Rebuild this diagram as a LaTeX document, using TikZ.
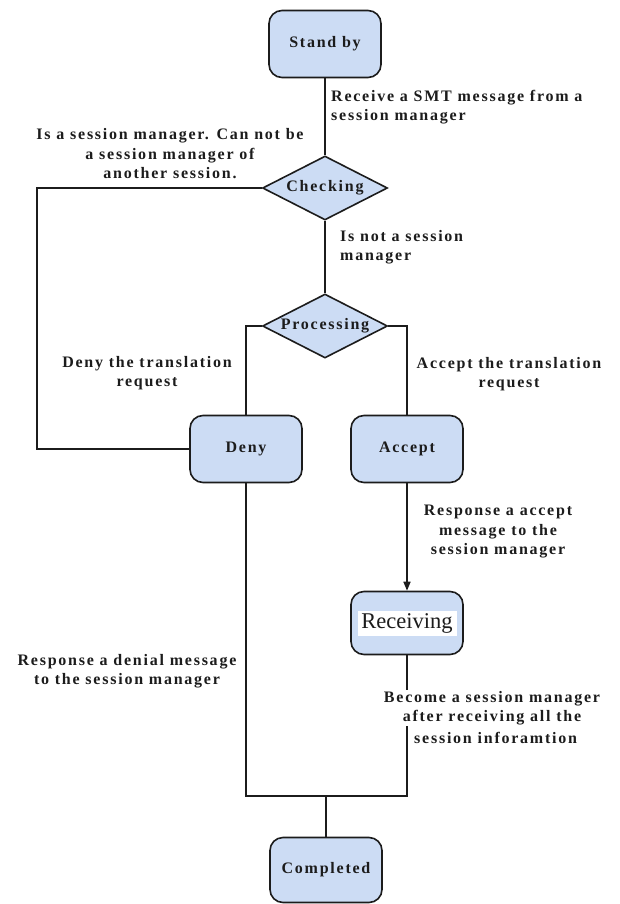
\documentclass[tikz,border=0pt]{standalone}
\usepackage{fontspec}
\setmainfont{Liberation Serif}
\newfontfamily\lblfont{Liberation Serif}[LetterSpace=11]
\usetikzlibrary{shapes.geometric,arrows.meta}
\definecolor{boxblue}{RGB}{204,220,244}
\definecolor{ink}{RGB}{28,28,28}
\newcommand{\lblsize}{\lblfont\bfseries\fontsize{16}{19.5}\selectfont}
\begin{document}
\begin{tikzpicture}[x=1pt,y=-1pt,
  state/.style={draw=ink, line width=1.6pt, fill=boxblue, rounded corners=13pt,
    minimum width=112pt, minimum height=67pt, inner sep=2pt, font=\lblsize, text=ink},
  decision/.style={diamond, draw=ink, line width=1.6pt, fill=boxblue, shape aspect=2,
    minimum width=125pt, minimum height=64pt, inner sep=0pt, font=\lblsize, text=ink},
  flow/.style={draw=ink, line width=1.6pt},
  note/.style={font=\lblsize, text=ink, inner sep=1pt, align=center},
]
% page
\fill[white] (0,0) rectangle (620,904);
\useasboundingbox (0,0) rectangle (620,904);

% states and decisions
\node[state] (standby) at (325,44) {Stand by};
\node[decision] (checking) at (325,188) {Checking};
\node[decision] (processing) at (325,326) {Processing};
\node[state] (deny) at (246,449) {Deny};
\node[state] (accept) at (407,449) {Accept};
\node[state, minimum height=63pt] (receiving) at (407,623) {};
\node[fill=white, minimum width=99pt, minimum height=25pt, inner sep=0pt,
  font=\fontsize{22.5}{25}\selectfont, text=ink] (receivingname) at (receiving.center) {Receiving};
\node[state, minimum height=65pt] (completed) at (326,870) {Completed};

% routing points
\coordinate (loopleft) at (37,188);
\coordinate (join) at (326,796);

% connectors
\draw[flow] (standby) -- (checking);
\draw[flow] (checking.west) -- (loopleft) |- (deny.west);
\draw[flow] (checking) -- (processing);
\draw[flow] (processing.west) -| (deny.north);
\draw[flow] (processing.east) -| (accept.north);
\draw[flow, -{Triangle[length=9pt,width=7pt]}] (accept) -- (receiving);
\draw[flow] (deny.south) |- (join) -| (receiving.south);
\draw[flow] (join) -- (completed);

% transition labels
\node[note, anchor=west, align=left] (lblreceive) at (330,107)
  {Receive a SMT message from a\\session manager};
\node[note] (lblmanager) at (170,154)
  {Is a session manager. Can not be\\a session manager of\\another session.};
\node[note, anchor=west, align=left] (lblnotmgr) at (339,247)
  {Is not a session\\manager};
\node[note] (lbldeny) at (147,373) {Deny the translation\\request};
\node[note] (lblaccept) at (509,374) {Accept the translation\\request};
\node[note] (lblaccmsg) at (498,532) {Response a accept\\message to the\\session manager};
\node[note] (lbldenymsg) at (127,671) {Response a denial message\\to the session manager};
\node[note, fill=white] (lblbecome) at (492,708) {Become a session manager\\after receiving all the};
\node[note, anchor=west] (lblbecomeend) at (413,738) {session inforamtion};
\end{tikzpicture}
\end{document}
